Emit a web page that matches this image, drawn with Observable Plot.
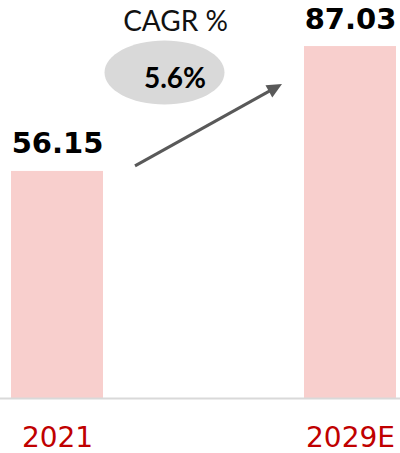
<!DOCTYPE html>
<html><head><meta charset="utf-8">
<script src="https://cdn.jsdelivr.net/npm/d3@7"></script>
<script src="https://cdn.jsdelivr.net/npm/@observablehq/plot@0.6"></script>
<style>html,body{margin:0;padding:0;background:#fff}</style>
</head><body><div id="chart"></div>
<script>
const years = ["2021", "2029E"];
const values = [56.15, 87.03];
const valueLabels = ["56.15", "87.03"];
const cagrTitle = "CAGR %";
const cagrValue = "5.6%";

const bars = years.map((year, i) => ({year, value: values[i], label: valueLabels[i]}));

const ellipseSymbol = {
  draw(ctx) {
    const rx = 60, ry = 32, k = 0.5523;
    ctx.moveTo(rx, 0);
    ctx.bezierCurveTo(rx, ry * k, rx * k, ry, 0, ry);
    ctx.bezierCurveTo(-rx * k, ry, -rx, ry * k, -rx, 0);
    ctx.bezierCurveTo(-rx, -ry * k, -rx * k, -ry, 0, -ry);
    ctx.bezierCurveTo(rx * k, -ry, rx, -ry * k, rx, 0);
    ctx.closePath();
  }
};

function cagrArrow(index, scales) {
  const {x, y} = scales;
  const bw = x.bandwidth ? x.bandwidth() : 0;
  const x0 = x(years[0]) + bw + 32, y0 = y(values[0]) - 5;
  const x1 = x(years[1]) - 22, y1 = y(values[1]) + 38;
  const ang = Math.atan2(y1 - y0, x1 - x0);
  const L = 15, W = 7;
  const c = Math.cos(ang), s = Math.sin(ang);
  const bx = x1 - L * c, by = y1 - L * s;
  const g = d3.create("svg:g");
  g.append("line")
    .attr("x1", x0).attr("y1", y0)
    .attr("x2", bx + 2 * c).attr("y2", by + 2 * s)
    .attr("stroke", "#595959").attr("stroke-width", 3);
  g.append("path")
    .attr("d", `M${x1},${y1}L${bx - W * s},${by + W * c}L${bx + W * s},${by - W * c}Z`)
    .attr("fill", "#595959");
  return g.node();
}

const chart = Plot.plot({
  width: 400,
  height: 453,
  marginTop: 0,
  marginRight: 0,
  marginBottom: 55,
  marginLeft: 0,
  x: {domain: years, range: [11, 396], paddingInner: 0.686, paddingOuter: 0, align: 0.5, round: false},
  y: {domain: [0, 98.42], axis: null},
  marks: [
    Plot.barY(bars, {x: "year", y: "value", fill: "#f8cfcd"}),
    Plot.ruleY([0], {stroke: "#d9d9d9", strokeWidth: 2}),
    Plot.text(bars, {
      x: "year", y: "value", text: "label", dy: -18, lineAnchor: "bottom",
      fontSize: 29, fontWeight: "bold", fontFamily: "DejaVu Sans", fill: "#000"
    }),
    Plot.axisX({
      tickSize: 0, tickPadding: 29, fontSize: 28, fontFamily: "DejaVu Sans",
      fill: "#c00000", label: null
    }),
    Plot.dot([cagrValue], {
      frameAnchor: "top-left", dx: 164, dy: 72, symbol: ellipseSymbol, r: 1,
      fill: "#d9d9d9", stroke: "none"
    }),
    Plot.text([cagrTitle], {
      frameAnchor: "top-left", dx: 175, dy: 30, lineAnchor: "bottom", textAnchor: "middle",
      text: d => d, fontFamily: "Lato", fontSize: 28, fill: "#111"
    }),
    Plot.text([cagrValue], {
      frameAnchor: "top-left", dx: 174.5, dy: 87, lineAnchor: "bottom", textAnchor: "middle",
      text: d => d, fontFamily: "Lato", fontWeight: "bold", fontSize: 28, fill: "#000"
    }),
    cagrArrow
  ]
});
document.getElementById("chart").appendChild(chart);
</script>
</body></html>
